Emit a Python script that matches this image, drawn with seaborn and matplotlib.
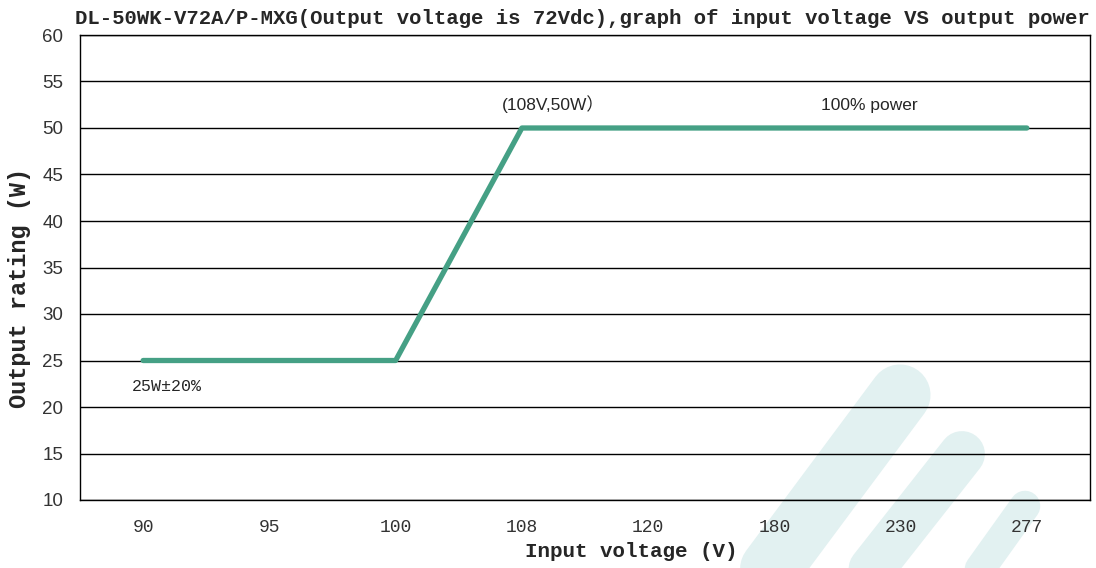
import matplotlib
matplotlib.use("Agg")
import matplotlib.pyplot as plt
import seaborn as sns
import pandas as pd
from matplotlib.lines import Line2D

# data
voltages = ["90", "95", "100", "108", "120", "180", "230", "277"]
power_w = [25, 25, 25, 50, 50, 50, 50, 50]
y_ticks = [10, 15, 20, 25, 30, 35, 40, 45, 50, 55, 60]

df = pd.DataFrame({"voltage": voltages, "power": power_w})

sns.set_theme(style="white")
mono = ["Liberation Mono", "DejaVu Sans Mono", "Noto Sans CJK SC"]
sans = ["Liberation Sans", "Noto Sans CJK SC", "DejaVu Sans"]

fig = plt.figure(figsize=(10.96, 5.68), dpi=100)
ax = fig.add_axes([80 / 1096, 1 - 500 / 568, 1010 / 1096, 465 / 568])
ax.patch.set_alpha(0)

# faint logo watermark in the background (bottom right), pixel coords
wm = "#e2f1f1"
for (x0, y0, x1, y1, w) in [(900, 395, 755, 590, 44),
                            (962, 454, 855, 590, 33),
                            (1025, 506, 965, 590, 22)]:
    fig.add_artist(Line2D([x0 / 1096, x1 / 1096], [1 - y0 / 568, 1 - y1 / 568],
                          color=wm, lw=w, solid_capstyle="round", zorder=-5))

sns.lineplot(data=df, x="voltage", y="power", sort=False, color="#45a085",
             linewidth=3.8, ax=ax, zorder=3)

ax.set_xlim(-0.5, len(voltages) - 0.5)
ax.set_ylim(10, 60)
ax.set_yticks(y_ticks)
ax.yaxis.grid(True, color="black", linewidth=1.0)
ax.xaxis.grid(False)
for s in ax.spines.values():
    s.set_visible(True)
    s.set_color("black")
    s.set_linewidth(1.0)

ax.tick_params(axis="both", length=0)
ax.tick_params(axis="x", pad=14)
ax.tick_params(axis="y", pad=12)
for lab in ax.get_yticklabels():
    lab.set_family(sans)
    lab.set_fontsize(13.5)
    lab.set_color("#333333")
for lab in ax.get_xticklabels():
    lab.set_family(mono)
    lab.set_fontsize(13)
    lab.set_color("#333333")

ax.set_xlabel("Input voltage (V)", family=mono, fontsize=15, fontweight="bold")
ax.xaxis.set_label_coords((631 - 80) / 1010, -(542 - 500) / 465)
ax.set_ylabel("Output rating (W)", family=mono, fontsize=17, fontweight="bold")
ax.yaxis.set_label_coords(-(80 - 31) / 1010, (500 - 288) / 465)
ax.set_title("DL-50WK-V72A/P-MXG(Output voltage is 72Vdc),graph of input voltage VS output power",
             family=mono, fontsize=14.9, fontweight="bold", loc="right", pad=8)

ax.text(3.25, 52.6, "(108V,50W\uff09", family=sans, fontsize=12.5, ha="center", va="center")
ax.text(5.75, 52.4, "100% power", family=sans, fontsize=12.5, ha="center", va="center")
ax.text(0.19, 22.2, "25W\u00b120%", family=mono, fontsize=12, ha="center", va="center")

fig.savefig("out.png", dpi=100)
